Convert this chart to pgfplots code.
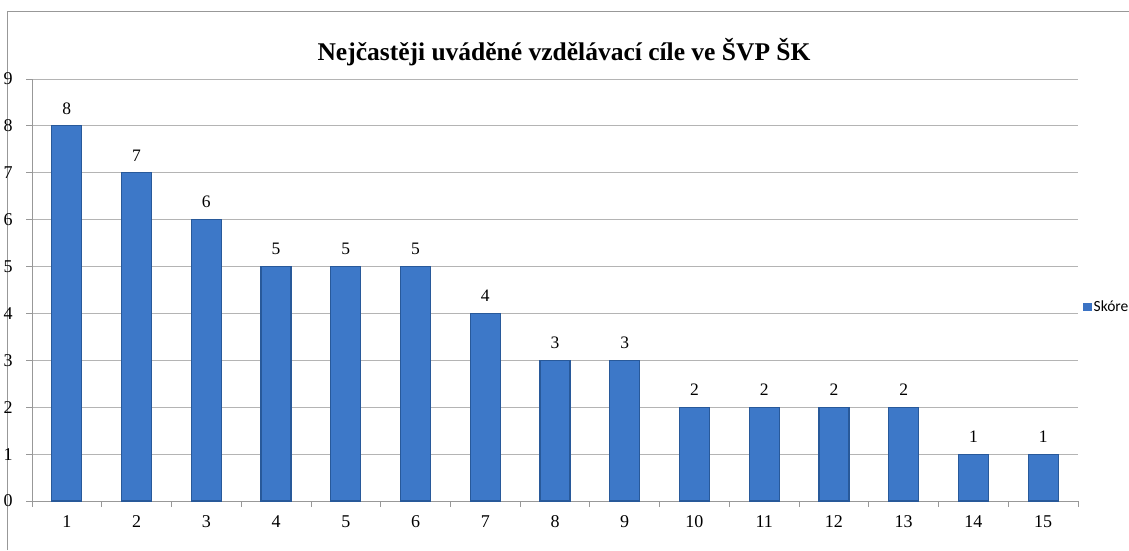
\documentclass[border=0pt]{standalone}
\usepackage{pgfplots}
\pgfplotsset{compat=1.18}
\usepackage{fontspec}
\setmainfont{Liberation Serif}
\newfontfamily\carlito{Carlito}
\definecolor{gridc}{HTML}{B4B4B4}
\definecolor{axisc}{HTML}{989898}
\definecolor{barmid}{HTML}{3D78C8}
\definecolor{baredge}{HTML}{28599A}
\definecolor{legc}{HTML}{3B73C4}
\begin{document}
\begin{tikzpicture}[x=1pt,y=1pt]
\draw[axisc, line width=1pt] (7,0) -- (7,538) -- (1129,538);
\node[font=\fontsize{25.5}{29}\selectfont\bfseries] at (564,498) {Nejčastěji uváděné vzdělávací cíle ve ŠVP ŠK};
\begin{axis}[
  scale only axis,
  width=1046pt, height=422pt,
  at={(32pt,49pt)}, anchor=south west,
  xmin=0.5, xmax=15.5, ymin=0, ymax=9,
  axis x line*=bottom, axis y line*=left,
  axis line style={axisc, line width=0.8pt, -},
  ymajorgrids, grid style={gridc, line width=0.8pt},
  ytick={0,1,...,9},
  xtick={0.5,1.5,...,15.5},
  xticklabels={1,2,3,4,5,6,7,8,9,10,11,12,13,14,15,{}},
  xticklabel style={xshift=34.87pt, anchor=north, inner sep=0pt, yshift=-9pt},
  yticklabel style={anchor=west, inner sep=0pt, xshift=-23pt},
  tick align=outside, major tick length=5.5pt,
  tick style={axisc, line width=0.8pt},
  /pgf/number format/assume math mode=true,
  ticklabel style={font=\fontsize{18}{20}\selectfont},
  nodes near coords,
  nodes near coords style={font=\fontsize{17.5}{20}\selectfont, anchor=south, inner sep=0pt, yshift=11pt},
  legend style={at={(1.005,0.46)}, anchor=west, draw=none, fill=none, font=\carlito\fontsize{15.5}{18}\selectfont, inner sep=0pt},
  legend cell align=left,
]
\addplot[ybar, bar width=30pt, bar shift=0pt, draw=baredge, line width=1.2pt,
  fill=barmid,
  legend image code/.code={\fill[legc] (0pt,-3.5pt) rectangle (7pt,3.5pt);}]
  coordinates {(1,8) (2,7) (3,6) (4,5) (5,5) (6,5) (7,4) (8,3) (9,3) (10,2) (11,2) (12,2) (13,2) (14,1) (15,1)};
\addlegendentry{Skóre}
\end{axis}
\pgfresetboundingbox
\path[use as bounding box] (0,0) rectangle (1129,550);
\end{tikzpicture}
\end{document}
